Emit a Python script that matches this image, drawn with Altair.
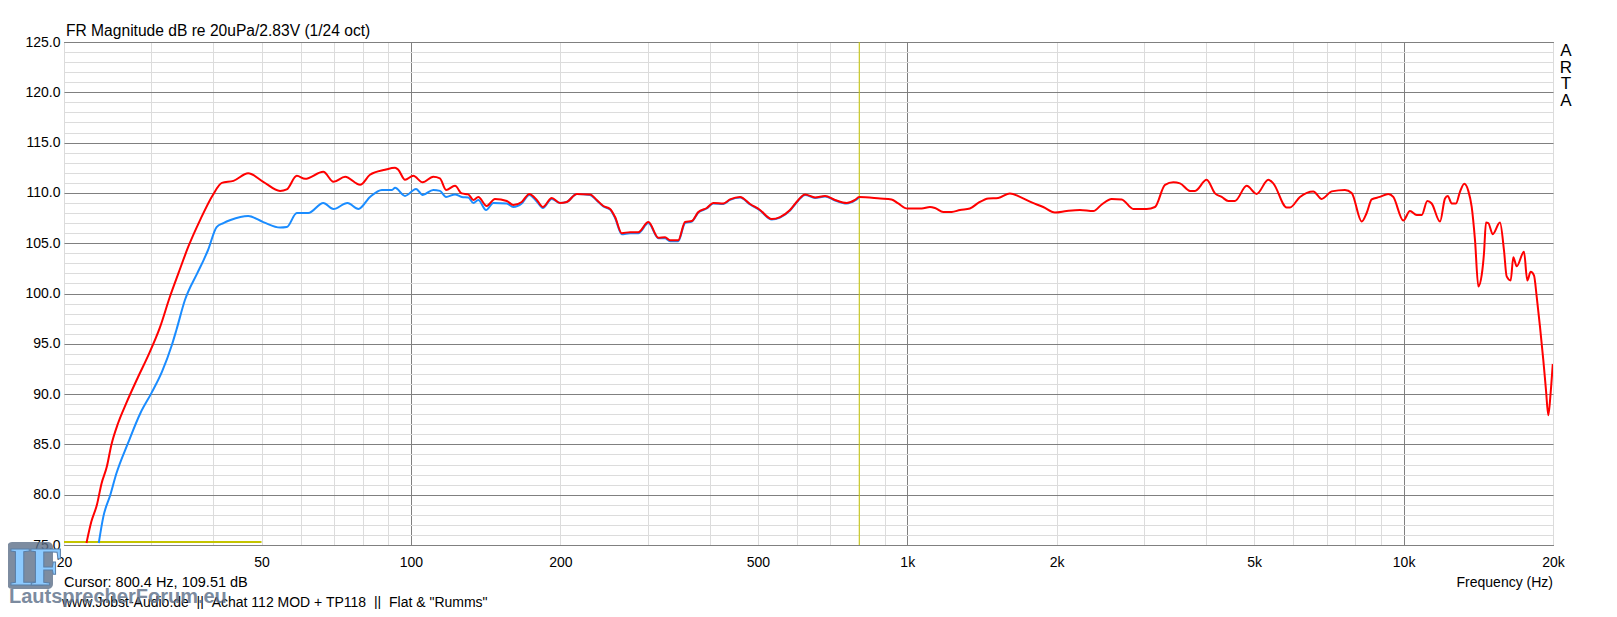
import altair as alt
import pandas as pd

# measured response, red trace (Hz, dB)
RED_FREQ = [
    22.2, 22.7, 23.3, 23.8, 24.4, 24.9, 25.7, 26.7, 28.2, 29.6, 31.2, 32.7, 34.0, 35.6,
    37.6, 39.9, 41.6, 43.9, 47.0, 50.4, 54.5, 56.2, 58.9, 61.2, 66.6, 69.8, 73.7, 79.0,
    82.7, 88.7, 92.9, 94.3, 97.3, 101.1, 105.6, 110.9, 114.4, 117.7, 122.7, 126.6, 130.5,
    133.6, 136.7, 142.1, 147.7, 156.0, 160.8, 167.2, 173.2, 179.3, 184.4, 192.2, 199.7,
    206.0, 215.9, 229.6, 236.8, 244.2, 251.9, 257.8, 265.9, 276.4, 287.2, 300.9, 315.1,
    325.1, 332.7, 345.7, 356.7, 368.0, 379.4, 394.5, 406.8, 426.1, 439.5, 460.4, 482.3,
    505.1, 533.3, 554.2, 580.5, 603.3, 622.4, 652.0, 682.9, 715.3, 755.2, 784.8, 800.0,
    881.6, 930, 959, 1000, 1069, 1111, 1137, 1182, 1229, 1277, 1337, 1390, 1456, 1525,
    1610, 1687, 1781, 1879, 1984, 2095, 2228, 2371, 2465, 2581, 2704, 2854, 3036, 3156,
    3306, 3436, 3544, 3712, 3800, 4011, 4169, 4300, 4434, 4574, 4829, 5058, 5338, 5463,
    5813, 5903, 6183, 6577, 6839, 7164, 7619, 7860, 8234, 8425, 8625, 8960, 9315, 9533,
    9986, 10301, 10627, 10877, 11163, 11393, 11840, 12118, 12272, 12501, 12752, 12990,
    13252, 13502, 13716, 13928, 14145, 14369, 14521, 14656, 14814, 15118, 15638, 15932,
    16132, 16436, 16634, 16900, 17481, 17750, 18034, 18310, 18543, 18828, 19119, 19360,
    19570, 19780, 19980,
]
RED_DB = [
    75.2, 77.3, 79.0, 81.1, 82.8, 84.9, 87.1, 89.1, 91.7, 93.9, 96.6, 99.7, 102.0, 104.65,
    107.3, 109.8, 111.0, 111.2, 111.95, 111.1, 110.2, 110.35, 111.7, 111.4, 112.1, 111.1,
    111.6, 110.8, 111.8, 112.3, 112.5, 112.3, 111.3, 111.7, 111.05, 111.6, 111.45, 110.3,
    110.7, 109.95, 109.85, 109.3, 109.6, 108.7, 109.4, 109.2, 108.8, 109.1, 109.9, 109.3,
    108.6, 109.5, 109.0, 109.1, 109.9, 109.85, 109.3, 108.7, 108.4, 107.6, 106.0, 106.1,
    106.1, 107.1, 105.55, 105.6, 105.3, 105.3, 107.1, 107.2, 108.1, 108.5, 109.0, 108.95,
    109.35, 109.6, 108.9, 108.3, 107.4, 107.6, 108.3, 109.3, 109.85, 109.55, 109.7, 109.3,
    109.0, 109.3, 109.6, 109.45, 109.35, 108.95, 108.45, 108.45, 108.6, 108.5, 108.1,
    108.1, 108.3, 108.45, 109.0, 109.45, 109.5, 109.95, 109.6, 109.05, 108.6, 108.05,
    108.2, 108.3, 108.2, 108.85, 109.4, 109.35, 108.4, 108.4, 108.6, 110.8, 111.05,
    110.95, 110.2, 110.2, 111.3, 109.95, 109.6, 109.2, 109.2, 110.7, 109.9, 111.3, 110.95,
    108.55, 108.55, 109.6, 110.15, 109.4, 110.15, 110.3, 110.0, 107.15, 108.0, 109.35,
    109.6, 109.9, 109.6, 107.25, 108.2, 107.8, 107.8, 109.2, 108.95, 107.15, 109.45,
    109.7, 108.95, 108.95, 110.1, 110.9, 110.2, 108.6, 105.3, 100.7, 101.85, 104.0,
    107.05, 107.0, 105.9, 107.05, 104.3, 101.7, 101.3, 103.6, 102.7, 104.15, 101.3,
    102.15, 101.8, 99.7, 96.7, 93.4, 90.4, 87.9, 90.1, 93.0,
]

# second trace, blue (Hz, dB)
BLUE_FREQ = [
    23.5, 24.0, 24.8, 25.5, 26.9, 28.5, 30.0, 31.5, 33.0, 33.7, 35.05, 37.1, 38.2, 39.0,
    40.6, 41.9, 43.3, 47.0, 50.4, 54.5, 56.2, 58.9, 62.1, 66.6, 69.8, 74.5, 78.4, 82.7,
    87.4, 91.6, 92.9, 97.3, 102.4, 105.6, 110.9, 114.4, 117.7, 122.7, 126.6, 130.5, 133.6,
    136.7, 141.7, 146.6, 156.0, 160.8, 167.2, 173.2, 179.3, 184.4, 192.2, 199.7, 206.0,
    215.9, 229.6, 236.8, 244.2, 251.9, 257.8, 265.9, 276.4, 287.2, 300.9, 315.1, 325.1,
    332.7, 345.7, 356.7, 368.0, 379.4, 394.5, 406.8, 426.1, 439.5, 460.4, 482.3, 505.1,
    533.3, 554.2, 580.5, 603.3, 622.4, 652.0, 682.9, 715.3, 755.2, 784.8, 800.0,
]
BLUE_DB = [
    75.2, 77.8, 80.0, 82.1, 85.1, 88.1, 90.1, 92.2, 94.9, 96.4, 99.35, 102.0, 103.3, 104.3,
    106.6, 107.0, 107.3, 107.7, 107.1, 106.55, 106.6, 108.0, 108.0, 109.0, 108.4, 109.0,
    108.4, 109.6, 110.3, 110.3, 110.5, 109.7, 110.4, 109.8, 110.3, 110.2, 109.6, 109.85,
    109.6, 109.55, 109.0, 109.3, 108.3, 109.0, 108.95, 108.6, 108.95, 109.8, 109.15,
    108.5, 109.4, 109.0, 109.1, 109.9, 109.8, 109.25, 108.65, 108.35, 107.5, 105.9, 106.0,
    106.0, 107.0, 105.5, 105.5, 105.2, 105.2, 107.0, 107.15, 108.05, 108.45, 108.95,
    108.9, 109.3, 109.55, 108.85, 108.25, 107.35, 107.55, 108.25, 109.25, 109.8, 109.5,
    109.65, 109.25, 108.95, 109.25, 109.55,
]

# yellow trace lying on the bottom edge
BASE_FREQ = [20, 50]
BASE_DB = [75.3, 75.3]

CURSOR_FREQ = [800.4]

X_GRID = [
    20, 30, 40, 50, 60, 70, 80, 90,
    100, 200, 300, 400, 500, 600, 700, 800, 900,
    1000, 2000, 3000, 4000, 5000, 6000, 7000, 8000, 9000,
    10000, 20000,
]
X_LABELS = [20, 50, 100, 200, 500, 1000, 2000, 5000, 10000, 20000]
X_MAJOR = [100, 1000, 10000]
Y_GRID = list(range(75, 126))

NB = "\u00a0"
TITLE = ["FR Magnitude dB re 20uPa/2.83V (1/24 oct)"]
CURSOR_TEXT = ["Cursor: 800.4 Hz, 109.51 dB"]
FOOTER = [f'www.Jobst-Audio.de{NB}{NB}||{NB}{NB}Achat 112 MOD + TP118{NB}{NB}||{NB}{NB}Flat & "Rumms"']
X_TITLE = ["Frequency (Hz)"]

FONT = "Liberation Sans"
W, H = 1489, 503


def _list(vals):
    return "[" + ",".join(str(v) for v in vals) + "]"


x_axis = alt.Axis(
    values=X_GRID,
    labelExpr=(
        f"indexof({_list(X_LABELS)}, datum.value) >= 0 ? "
        "(datum.value >= 1000 ? (datum.value / 1000) + 'k' : datum.value + '') : ''"
    ),
    gridColor=alt.condition(
        f"indexof({_list(X_MAJOR)}, datum.value) >= 0",
        alt.value("#808080"),
        alt.value("#dcdcdc"),
    ),
    title=None,
    ticks=False,
    domain=False,
    labelFlush=False,
    labelOverlap=False,
    labelPadding=10,
)
y_axis = alt.Axis(
    values=Y_GRID,
    labelExpr="datum.value % 5 == 0 ? format(datum.value, '.1f') : ''",
    gridColor=alt.condition(
        "datum.value % 5 == 0",
        alt.value("#808080"),
        alt.value("#dcdcdc"),
    ),
    title=None,
    ticks=False,
    domain=False,
    labelOverlap=False,
    labelPadding=4,
)

x_scale = alt.Scale(type="log", domain=[20, 20000], nice=False)
y_scale = alt.Scale(domain=[75, 125], nice=False, zero=False)


def _xy():
    return dict(
        x=alt.X("f:Q", scale=x_scale, axis=x_axis),
        y=alt.Y("db:Q", scale=y_scale, axis=y_axis),
    )


def _curve(freq, db, color, width, interp="linear"):
    df = pd.DataFrame({"f": freq, "db": db})
    return alt.Chart(df).mark_line(
        color=color, strokeWidth=width, clip=True, interpolate=interp
    ).encode(**_xy())


def _text(lines, x, y, **kw):
    df = pd.DataFrame({"t": lines})
    return alt.Chart(df).mark_text(font=FONT, color="black", **kw).encode(
        text="t:N", x=alt.value(x), y=alt.value(y)
    )


cursor = (
    alt.Chart(pd.DataFrame({"f": CURSOR_FREQ}))
    .mark_rule(color="#c4c400", strokeWidth=1)
    .encode(x=alt.X("f:Q", scale=x_scale, axis=x_axis))
)

base_line = _curve(BASE_FREQ, BASE_DB, "#c4c400", 2)
blue = _curve(BLUE_FREQ, BLUE_DB, "#1a8cff", 2, "monotone")
red = _curve(RED_FREQ, RED_DB, "#ff0000", 2, "monotone")

title = _text(TITLE, 2, -6, fontSize=15.6, align="left", baseline="alphabetic")
cursor_text = _text(CURSOR_TEXT, 0, 541, fontSize=14.5, align="left", baseline="middle")
footer = _text(FOOTER, -2, 561, fontSize=14, align="left", baseline="middle")
x_title = _text(X_TITLE, W, 541, fontSize=14, align="right", baseline="middle")
arta = _text(["A\nR\nT\nA"], 1502, 1, fontSize=17, align="center", baseline="top",
             lineBreak="\n", lineHeight=16.5)

# forum watermark in the lower left corner
logo_box = (
    alt.Chart(pd.DataFrame({"t": ["LF"]}))
    .mark_rect(color="#5d6f88", opacity=0.8, cornerRadius=5)
    .encode(x=alt.value(-57), x2=alt.value(-11), y=alt.value(500), y2=alt.value(547))
)
logo_l = (
    alt.Chart(pd.DataFrame({"t": ["L"]}))
    .mark_text(font="Liberation Sans Narrow", fontWeight="bold", fontSize=54,
               color="#8ccaff", stroke="#5a7fa8", strokeWidth=1,
               align="left", baseline="alphabetic")
    .encode(text="t:N", x=alt.value(-54), y=alt.value(543))
)
logo_f = (
    alt.Chart(pd.DataFrame({"t": ["F"]}))
    .mark_text(font="Liberation Sans Narrow", fontWeight="bold", fontSize=54,
               color="#8ccaff", stroke="#5a7fa8", strokeWidth=1,
               align="left", baseline="alphabetic")
    .encode(text="t:N", x=alt.value(-34), y=alt.value(543))
)
logo_text = (
    alt.Chart(pd.DataFrame({"t": ["LautsprecherForum.eu"]}))
    .mark_text(font=FONT, fontSize=20, fontWeight="bold", color="#66778f", opacity=0.85,
               align="left", baseline="alphabetic")
    .encode(text="t:N", x=alt.value(-55), y=alt.value(561))
)

chart = (
    alt.layer(
        cursor, base_line, blue, red,
        title, cursor_text, footer, x_title, arta,
        logo_box, logo_l, logo_f, logo_text,
    )
    .properties(
        width=W,
        height=H,
        autosize=alt.AutoSizeParams(type="none"),
        padding={"left": 56, "top": 34, "right": 50, "bottom": 64},
        background="white",
    )
    .configure_view(stroke="black", strokeWidth=1)
    .configure_axis(
        labelFont=FONT,
        labelFontSize=14,
        labelColor="black",
        gridOpacity=1,
        gridWidth=1,
    )
)

chart.save("out.html", embed_options={"renderer": "svg", "actions": False})
